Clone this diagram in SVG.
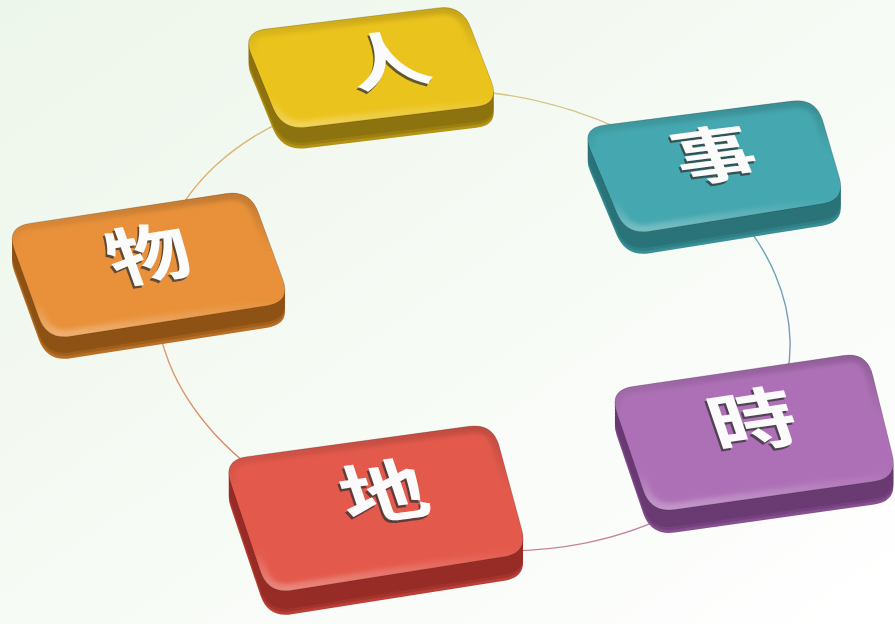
<svg xmlns="http://www.w3.org/2000/svg" width="895" height="624" viewBox="0 0 895 624">
<style>
.conn{fill:none;stroke-width:1.4}
.fc{stroke:#000;stroke-opacity:0.22;stroke-width:0.8}
.bev{fill:none;stroke:url(#gBev);stroke-width:14;filter:url(#soft)}
.lbl{font-family:"Noto Sans CJK TC","Noto Sans CJK SC",sans-serif;font-weight:700;text-anchor:middle;dominant-baseline:central}
.lbl-s{fill:#333;fill-opacity:0.75}
.lbl-w{fill:#fbfbfb}
#node-ren .fc{fill:#ebc31d} #node-ren .sd{fill:#8d730f} #node-ren .sm{fill:#9c7f10} #node-ren .sl{fill:#b39313}
#node-shi .fc{fill:#45a7af} #node-shi .sd{fill:#2a7379} #node-shi .sm{fill:#2f7f85} #node-shi .sl{fill:#378e94}
#node-wu .fc{fill:#e8913a} #node-wu .sd{fill:#8e5215} #node-wu .sm{fill:#a0601c} #node-wu .sl{fill:#b86e24}
#node-shi2 .fc{fill:#ad70b6} #node-shi2 .sd{fill:#6a3a73} #node-shi2 .sm{fill:#75417e} #node-shi2 .sl{fill:#864f90}
#node-di .fc{fill:#e35a4c} #node-di .sd{fill:#972c27} #node-di .sm{fill:#a5332d} #node-di .sl{fill:#b93f37}
</style>
<defs>
<linearGradient id="gBg" x1="0" y1="0" x2="1" y2="1"><stop offset="0" stop-color="#edf6ea"/><stop offset="1" stop-color="#ffffff"/></linearGradient>
<linearGradient id="gBev" x1="0" y1="0" x2="0" y2="1"><stop offset="0" stop-color="#000" stop-opacity="0.16"/><stop offset="0.4" stop-color="#000" stop-opacity="0"/><stop offset="0.75" stop-color="#fff" stop-opacity="0"/><stop offset="1" stop-color="#fff" stop-opacity="0.28"/></linearGradient>
<filter id="soft" x="-10%" y="-10%" width="120%" height="120%"><feGaussianBlur stdDeviation="2"/></filter>
<linearGradient id="g1" gradientUnits="userSpaceOnUse" x1="368" y1="95" x2="737" y2="214"><stop offset="0" stop-color="#dcc27a"/><stop offset="0.6" stop-color="#d3c48e"/><stop offset="1" stop-color="#5fb0b5"/></linearGradient>
<linearGradient id="g2" gradientUnits="userSpaceOnUse" x1="737" y1="214" x2="743" y2="461"><stop offset="0" stop-color="#5aaeb3"/><stop offset="1" stop-color="#a77db5"/></linearGradient>
<linearGradient id="g3" gradientUnits="userSpaceOnUse" x1="743" y1="461" x2="380" y2="533"><stop offset="0" stop-color="#b58bc0"/><stop offset="1" stop-color="#d77a72"/></linearGradient>
<linearGradient id="g4" gradientUnits="userSpaceOnUse" x1="380" y1="533" x2="156" y2="290"><stop offset="0" stop-color="#d46f66"/><stop offset="1" stop-color="#dca36e"/></linearGradient>
<linearGradient id="g5" gradientUnits="userSpaceOnUse" x1="156" y1="290" x2="368" y2="95"><stop offset="0" stop-color="#dfa66a"/><stop offset="1" stop-color="#dcc07a"/></linearGradient>
<path id="f-ren" d="M265.8 29.1 L438.2 7.9 Q462 5 470.6 27.4 L491.4 81.6 Q500 104 476.2 106.8 L305.8 127.2 Q282 130 272.9 107.8 L251.1 54.2 Q242 32 265.8 29.1Z"/>
<path id="f-shi" d="M604.8 125 L792.2 101 Q816 98 822.8 121 L839.2 177 Q846 200 822.3 203.8 L649.7 231.2 Q626 235 616.7 212.9 L590.3 150.1 Q581 128 604.8 125Z"/>
<path id="f-wu" d="M29.7 223.4 L226.3 193.6 Q250 190 258.3 212.5 L282.8 279.5 Q291 302 267.3 305.7 L70.7 336.3 Q47 340 38.8 317.4 L14.2 249.6 Q6 227 29.7 223.4Z"/>
<path id="f-shi2" d="M632.7 386.5 L843.3 355.5 Q867 352 872.7 375.3 L892.3 454.7 Q898 478 874.2 481.4 L674.8 509.6 Q651 513 643.2 490.3 L616.8 412.7 Q609 390 632.7 386.5Z"/>
<path id="f-di" d="M246.8 456.7 L469.2 426.3 Q493 423 499.2 446.2 L521.8 529.8 Q528 553 504.3 556.7 L291.7 590.3 Q268 594 260.4 571.3 L230.6 482.8 Q223 460 246.8 456.7Z"/>
<clipPath id="c-ren"><use href="#f-ren"/></clipPath>
<clipPath id="c-shi"><use href="#f-shi"/></clipPath>
<clipPath id="c-wu"><use href="#f-wu"/></clipPath>
<clipPath id="c-shi2"><use href="#f-shi2"/></clipPath>
<clipPath id="c-di"><use href="#f-di"/></clipPath>
</defs>
<rect width="895" height="624" fill="url(#gBg)"/>
<g id="connectors">
<path class="conn" stroke="url(#g1)" d="M367.8 94.7 A322 228 9 0 1 736.6 213.6"/>
<path class="conn" stroke="url(#g2)" d="M736.6 213.6 A322 228 9 0 1 743.1 460.8"/>
<path class="conn" stroke="url(#g3)" d="M743.1 460.8 A322 228 9 0 1 379.6 533.2"/>
<path class="conn" stroke="url(#g4)" d="M379.6 533.2 A322 228 9 0 1 156.2 289.6"/>
<path class="conn" stroke="url(#g5)" d="M156.2 289.6 A322 228 9 0 1 367.8 94.7"/>
</g>
<g id="node-ren">
<use href="#f-ren" class="sl" transform="translate(0,21)"/>
<use href="#f-ren" class="sm" transform="translate(0,18)"/>
<use href="#f-ren" class="sd" transform="translate(0,15)"/>
<use href="#f-ren" class="sd" transform="translate(0,12)"/>
<use href="#f-ren" class="sd" transform="translate(0,9)"/>
<use href="#f-ren" class="sd" transform="translate(0,6)"/>
<use href="#f-ren" class="sd" transform="translate(0,3)"/>
<use href="#f-ren" class="fc"/>
<use href="#f-ren" class="bev" clip-path="url(#c-ren)"/>
<g transform="matrix(0.993,-0.122,0.302,0.741,385,57)">
<text class="lbl lbl-s" x="-2.5" y="3" font-size="80">人</text>
<text class="lbl lbl-w" font-size="80">人</text>
</g>
</g>
<g id="node-shi">
<use href="#f-shi" class="sl" transform="translate(0,22)"/>
<use href="#f-shi" class="sm" transform="translate(0,19)"/>
<use href="#f-shi" class="sd" transform="translate(0,16)"/>
<use href="#f-shi" class="sd" transform="translate(0,13)"/>
<use href="#f-shi" class="sd" transform="translate(0,10)"/>
<use href="#f-shi" class="sd" transform="translate(0,7)"/>
<use href="#f-shi" class="sd" transform="translate(0,4)"/>
<use href="#f-shi" class="fc"/>
<use href="#f-shi" class="bev" clip-path="url(#c-shi)"/>
<g transform="matrix(0.992,-0.127,0.310,0.737,713,151)">
<text class="lbl lbl-s" x="-2.5" y="3" font-size="80">事</text>
<text class="lbl lbl-w" font-size="80">事</text>
</g>
</g>
<g id="node-wu">
<use href="#f-wu" class="sl" transform="translate(0,22)"/>
<use href="#f-wu" class="sm" transform="translate(0,19)"/>
<use href="#f-wu" class="sd" transform="translate(0,16)"/>
<use href="#f-wu" class="sd" transform="translate(0,13)"/>
<use href="#f-wu" class="sd" transform="translate(0,10)"/>
<use href="#f-wu" class="sd" transform="translate(0,7)"/>
<use href="#f-wu" class="sd" transform="translate(0,4)"/>
<use href="#f-wu" class="fc"/>
<use href="#f-wu" class="bev" clip-path="url(#c-wu)"/>
<g transform="matrix(0.989,-0.150,0.273,0.752,147,250)">
<text class="lbl lbl-s" x="-2.5" y="3" font-size="82">物</text>
<text class="lbl lbl-w" font-size="82">物</text>
</g>
</g>
<g id="node-shi2">
<use href="#f-shi2" class="sl" transform="translate(0,23)"/>
<use href="#f-shi2" class="sm" transform="translate(0,20)"/>
<use href="#f-shi2" class="sd" transform="translate(0,17)"/>
<use href="#f-shi2" class="sd" transform="translate(0,14)"/>
<use href="#f-shi2" class="sd" transform="translate(0,11)"/>
<use href="#f-shi2" class="sd" transform="translate(0,8)"/>
<use href="#f-shi2" class="sd" transform="translate(0,4)"/>
<use href="#f-shi2" class="fc"/>
<use href="#f-shi2" class="bev" clip-path="url(#c-shi2)"/>
<g transform="matrix(0.989,-0.146,0.259,0.757,751,416)">
<text class="lbl lbl-s" x="-2.5" y="3" font-size="86">時</text>
<text class="lbl lbl-w" font-size="86">時</text>
</g>
</g>
<g id="node-di">
<use href="#f-di" class="sl" transform="translate(0,24)"/>
<use href="#f-di" class="sm" transform="translate(0,21)"/>
<use href="#f-di" class="sd" transform="translate(0,18)"/>
<use href="#f-di" class="sd" transform="translate(0,15)"/>
<use href="#f-di" class="sd" transform="translate(0,12)"/>
<use href="#f-di" class="sd" transform="translate(0,9)"/>
<use href="#f-di" class="sd" transform="translate(0,6)"/>
<use href="#f-di" class="sd" transform="translate(0,3)"/>
<use href="#f-di" class="fc"/>
<use href="#f-di" class="bev" clip-path="url(#c-di)"/>
<g transform="matrix(0.991,-0.136,0.255,0.758,382,488)">
<text class="lbl lbl-s" x="-2.5" y="3" font-size="86">地</text>
<text class="lbl lbl-w" font-size="86">地</text>
</g>
</g>
</svg>
